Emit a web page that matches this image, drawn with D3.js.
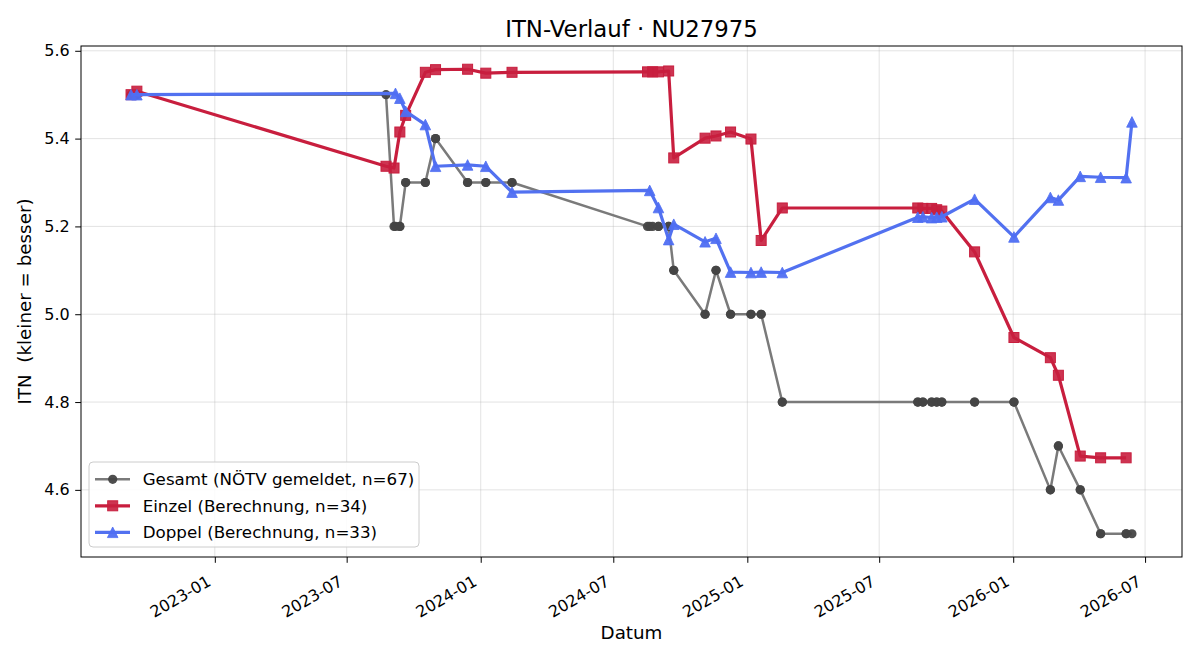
<!DOCTYPE html>
<html>
<head>
<meta charset="utf-8">
<script src="https://cdn.jsdelivr.net/npm/d3@7"></script>
<style>
  body { margin: 0; background: #fff; }
  text { font-family: "DejaVu Sans", sans-serif; fill: #000; }
</style>
</head>
<body>
<div id="chart"></div>
<script>
// data
var gesamtDates = [
  "2022-09-08","2022-09-08","2022-09-16","2022-09-16","2023-08-24","2023-09-04","2023-09-06",
  "2023-09-12","2023-09-12","2023-09-20","2023-09-20","2023-10-17","2023-10-17","2023-10-31","2023-10-31",
  "2023-12-14","2023-12-14","2024-01-08","2024-01-08","2024-02-13","2024-02-13",
  "2024-08-17","2024-08-20","2024-08-24","2024-09-01","2024-09-01","2024-09-15","2024-09-15",
  "2024-09-22","2024-09-22","2024-11-04","2024-11-04","2024-11-19","2024-11-19","2024-12-09","2024-12-09",
  "2025-01-06","2025-01-06","2025-01-20","2025-01-20","2025-02-18","2025-02-18",
  "2025-08-23","2025-08-23","2025-08-30","2025-08-30","2025-09-11","2025-09-11","2025-09-18","2025-09-18",
  "2025-09-25","2025-09-25","2025-11-09","2025-11-09","2026-01-02","2026-01-02",
  "2026-02-21","2026-02-21","2026-03-04","2026-03-04","2026-04-03","2026-04-03",
  "2026-05-01","2026-05-01","2026-06-05","2026-06-05","2026-06-13"
];
var gesamtValues = [
  5.5,5.5,5.5,5.5,5.5,5.2,5.2,
  5.2,5.2,5.3,5.3,5.3,5.3,5.4,5.4,
  5.3,5.3,5.3,5.3,5.3,5.3,
  5.2,5.2,5.2,5.2,5.2,5.2,5.2,
  5.1,5.1,5.0,5.0,5.1,5.1,5.0,5.0,
  5.0,5.0,5.0,5.0,4.8,4.8,
  4.8,4.8,4.8,4.8,4.8,4.8,4.8,4.8,
  4.8,4.8,4.8,4.8,4.8,4.8,
  4.6,4.6,4.7,4.7,4.6,4.6,
  4.5,4.5,4.5,4.5,4.5
];

var einzelDates = [
  "2022-09-08","2022-09-16","2023-08-24","2023-09-04","2023-09-12","2023-09-20","2023-10-17",
  "2023-10-31","2023-12-14","2024-01-08","2024-02-13","2024-08-17","2024-08-24","2024-09-01",
  "2024-09-15","2024-09-22","2024-11-04","2024-11-19","2024-12-09","2025-01-06","2025-01-20",
  "2025-02-18","2025-08-23","2025-08-30","2025-09-11","2025-09-18","2025-09-25","2025-11-09",
  "2026-01-02","2026-02-21","2026-03-04","2026-04-03","2026-05-01","2026-06-05"
];
var einzelValues = [
  5.500,5.508,5.337,5.333,5.415,5.453,5.551,
  5.557,5.558,5.549,5.551,5.552,5.552,5.552,
  5.554,5.356,5.401,5.406,5.415,5.399,5.168,
  5.242,5.242,5.241,5.241,5.238,5.235,5.142,
  4.947,4.901,4.861,4.677,4.673,4.673
];

var doppelDates = [
  "2022-09-08","2022-09-16","2023-09-06","2023-09-12","2023-09-20","2023-10-17","2023-10-31",
  "2023-12-14","2024-01-08","2024-02-13","2024-08-20","2024-09-01","2024-09-15","2024-09-22",
  "2024-11-04","2024-11-19","2024-12-09","2025-01-06","2025-01-20","2025-02-18","2025-08-23",
  "2025-08-30","2025-09-11","2025-09-18","2025-09-25","2025-11-09","2026-01-02","2026-02-21",
  "2026-03-04","2026-04-03","2026-05-01","2026-06-05","2026-06-13"
];
var doppelValues = [
  5.500,5.500,5.503,5.492,5.462,5.432,5.337,
  5.340,5.337,5.278,5.282,5.243,5.170,5.205,
  5.165,5.173,5.096,5.095,5.096,5.095,5.221,
  5.222,5.220,5.221,5.222,5.262,5.176,5.266,
  5.260,5.314,5.312,5.311,5.438
];

var yTicks = [4.6, 4.8, 5.0, 5.2, 5.4, 5.6];
var xTickDates = ["2023-01-01","2023-07-01","2024-01-01","2024-07-01","2025-01-01","2025-07-01","2026-01-01","2026-07-01"];

var parse = d3.timeParse("%Y-%m-%d");
function zip(dates, values) {
  return dates.map(function (d, i) { return {date: parse(d), value: values[i]}; });
}
var series = [
  {name: "Gesamt (NÖTV gemeldet, n=67)", data: zip(gesamtDates, gesamtValues),
   line: "#7a7a7a", mark: "#444444", width: 2.5, shape: "circle"},
  {name: "Einzel (Berechnung, n=34)", data: zip(einzelDates, einzelValues),
   line: "#c81e3e", mark: "#c81e3e", width: 3.2, shape: "square"},
  {name: "Doppel (Berechnung, n=33)", data: zip(doppelDates, doppelValues),
   line: "#5271f0", mark: "#4f6ef2", width: 3.2, shape: "triangle"}
];

// set the dimensions and margins of the graph
var W = 1200, H = 660;
var margin = {top: 46, right: 18, bottom: 103, left: 81},
    width = W - margin.left - margin.right,
    height = H - margin.top - margin.bottom;

var svg = d3.select("#chart")
  .append("svg")
    .attr("width", W)
    .attr("height", H)
  .append("g")
    .attr("transform", "translate(" + margin.left + "," + margin.top + ")");

// domains with 5% padding like matplotlib
var all = series[0].data.concat(series[1].data, series[2].data);
var tExt = d3.extent(all, function (d) { return d.date; });
var tPad = (tExt[1] - tExt[0]) * 0.05;
var x = d3.scaleTime()
  .domain([new Date(+tExt[0] - tPad), new Date(+tExt[1] + tPad)])
  .range([0, width]);
var vExt = d3.extent(all, function (d) { return d.value; });
var vPad = (vExt[1] - vExt[0]) * 0.05;
var y = d3.scaleLinear()
  .domain([vExt[0] - vPad, vExt[1] + vPad])
  .range([height, 0]);

var xTicks = xTickDates.map(parse);

// grid
svg.append("g").selectAll("line").data(xTicks).enter().append("line")
  .attr("x1", function (d) { return x(d); }).attr("x2", function (d) { return x(d); })
  .attr("y1", 0).attr("y2", height)
  .attr("stroke", "#b0b0b0").attr("stroke-opacity", 0.35).attr("stroke-width", 1);
svg.append("g").selectAll("line").data(yTicks).enter().append("line")
  .attr("y1", function (d) { return y(d); }).attr("y2", function (d) { return y(d); })
  .attr("x1", 0).attr("x2", width)
  .attr("stroke", "#b0b0b0").attr("stroke-opacity", 0.35).attr("stroke-width", 1);

// Add X axis
var xAxis = svg.append("g")
  .attr("transform", "translate(0," + height + ")")
  .call(d3.axisBottom(x).tickValues(xTicks).tickFormat(d3.timeFormat("%Y-%m")).tickSize(5.8).tickPadding(0));
xAxis.select(".domain").remove();
xAxis.selectAll("text")
  .style("font-family", "DejaVu Sans").style("font-size", "16px")
  .attr("text-anchor", "middle")
  .attr("y", 0).attr("dy", "0.35em")
  .attr("transform", "translate(-35,39.5) rotate(-30)");

// Add Y axis
var yAxis = svg.append("g")
  .call(d3.axisLeft(y).tickValues(yTicks).tickFormat(d3.format(".1f")).tickSize(5.8).tickPadding(5.5));
yAxis.select(".domain").remove();
yAxis.selectAll("text").style("font-family", "DejaVu Sans").style("font-size", "16px");

// frame
svg.append("rect").attr("width", width).attr("height", height)
  .attr("fill", "none").attr("stroke", "#000").attr("stroke-width", 1);

function marker(sel, s, sz) {
  if (s.shape === "circle") {
    sel.append("circle").attr("r", sz.c).attr("fill", s.mark).attr("fill-opacity", 0.95);
  } else if (s.shape === "square") {
    sel.append("rect").attr("x", -sz.s / 2).attr("y", -sz.s / 2).attr("width", sz.s).attr("height", sz.s)
      .attr("fill", s.mark).attr("fill-opacity", 0.9).attr("stroke", s.mark).attr("stroke-width", 1);
  } else {
    var h = sz.t;
    sel.append("path").attr("d", "M0," + (-h) + "L" + h + "," + h + "L" + (-h) + "," + h + "Z")
      .attr("fill", s.mark).attr("fill-opacity", 0.95).attr("stroke", s.mark).attr("stroke-width", 0.8);
  }
}
var sizes = {c: 4.6, s: 10, t: 5.3};

var line = d3.line().x(function (d) { return x(d.date); }).y(function (d) { return y(d.value); });

series.forEach(function (s) {
  var g = svg.append("g");
  g.append("path").datum(s.data)
    .attr("d", line)
    .attr("fill", "none").attr("stroke", s.line).attr("stroke-width", s.width)
    .attr("stroke-linejoin", "round");
  g.selectAll("g.pt").data(s.data).enter().append("g")
    .attr("class", "pt")
    .attr("transform", function (d) { return "translate(" + x(d.date) + "," + y(d.value) + ")"; })
    .each(function () { marker(d3.select(this), s, sizes); });
});

// legend
var lg = svg.append("g").attr("transform", "translate(8,416)");
lg.append("rect").attr("width", 330).attr("height", 85).attr("rx", 4)
  .attr("fill", "#fff").attr("fill-opacity", 0.85).attr("stroke", "#cccccc");
series.forEach(function (s, i) {
  var row = lg.append("g").attr("transform", "translate(0," + (17.3 + i * 26.5) + ")");
  row.append("line").attr("x1", 6).attr("x2", 41).attr("stroke", s.line).attr("stroke-width", s.width);
  var m = row.append("g").attr("transform", "translate(23.7,0)");
  marker(m, s, sizes);
  row.append("text").attr("x", 53.7).attr("dy", "0.35em")
    .style("font-size", "16.7px").text(s.name);
});

// labels
svg.append("text").attr("x", width / 2).attr("y", -9)
  .attr("text-anchor", "middle").style("font-size", "22.8px").text("ITN-Verlauf · NU27975");
svg.append("text").attr("x", width / 2).attr("y", height + 82)
  .attr("text-anchor", "middle").style("font-size", "18.3px").text("Datum");
svg.append("text").attr("transform", "translate(-50," + (height / 2) + ") rotate(-90)")
  .attr("text-anchor", "middle").style("font-size", "18.3px").style("white-space", "pre")
  .text("ITN  (kleiner = besser)");
</script>
</body>
</html>
